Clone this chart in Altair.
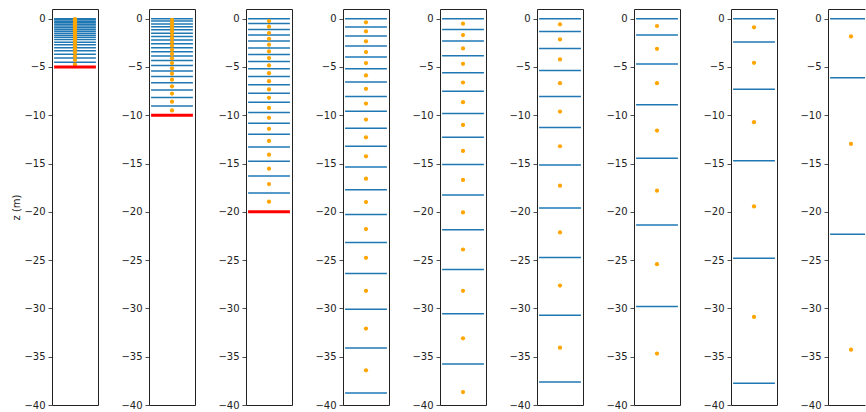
import altair as alt
import pandas as pd

# Layer interface depths (m) for each vertical grid
interfaces_1 = [0, -0.12, -0.28, -0.43, -0.58, -0.76, -0.93, -1.11, -1.3, -1.5,
                -1.71, -1.93, -2.16, -2.43, -2.71, -3.0, -3.32, -3.69, -4.07, -4.51]
interfaces_2 = [0, -0.25, -0.55, -0.85, -1.16, -1.5, -1.85, -2.22, -2.6, -3.0,
                -3.43, -3.86, -4.33, -4.86, -5.42, -6.0, -6.64, -7.38, -8.15, -9.03]
interfaces_3 = [0, -0.49, -1.11, -1.70, -2.32, -3.05, -3.70, -4.43, -5.19, -5.99,
                -6.85, -7.71, -8.65, -9.72, -10.83, -11.97, -13.28, -14.77, -16.29, -18.05]
interfaces_4 = [0, -0.87, -1.80, -2.84, -3.98, -5.19, -6.57, -8.06, -9.58, -11.35,
                -13.21, -15.36, -17.71, -20.27, -23.17, -26.39, -30.09, -34.10, -38.77]
interfaces_5 = [0, -1.11, -2.32, -3.84, -5.60, -7.51, -9.82, -12.28, -15.11, -18.26,
                -21.86, -25.97, -30.54, -35.76]
interfaces_6 = [0, -1.32, -3.08, -5.36, -8.06, -11.27, -15.15, -19.61, -24.73, -30.71, -37.63]
interfaces_7 = [0, -1.70, -4.70, -8.92, -14.46, -21.37, -29.81]
interfaces_8 = [0, -2.42, -7.30, -14.70, -24.80, -37.76]
interfaces_9 = [0, -6.12, -22.31]

# Layer centre depths (m)
centers_1 = [-0.06, -0.2, -0.35, -0.5, -0.67, -0.84, -1.02, -1.2, -1.4, -1.6,
             -1.82, -2.05, -2.3, -2.57, -2.85, -3.16, -3.5, -3.88, -4.29, -4.75]
centers_2 = [-0.12, -0.4, -0.7, -1.0, -1.33, -1.68, -2.04, -2.42, -2.8, -3.22,
             -3.65, -4.1, -4.6, -5.14, -5.7, -6.32, -7.0, -7.76, -8.6, -9.5]
centers_3 = [-0.25, -0.83, -1.49, -2.08, -2.70, -3.39, -4.08, -4.84, -5.64, -6.47,
             -7.33, -8.20, -9.24, -10.27, -11.41, -12.66, -14.08, -15.53, -17.12, -18.95]
centers_4 = [-0.38, -1.32, -2.35, -3.46, -4.60, -5.88, -7.26, -8.79, -10.45, -12.28,
             -14.25, -16.57, -18.99, -21.79, -24.76, -28.18, -32.09, -36.41]
centers_5 = [-0.52, -1.70, -3.08, -4.67, -6.61, -8.65, -11.00, -13.70, -16.70, -20.06,
             -23.90, -28.18, -33.09, -38.66]
centers_6 = [-0.59, -2.15, -4.22, -6.68, -9.62, -13.21, -17.29, -22.13, -27.63, -34.06]
centers_7 = [-0.76, -3.12, -6.68, -11.59, -17.81, -25.42, -34.68]
centers_8 = [-0.90, -4.57, -10.72, -19.44, -30.88]
centers_9 = [-1.84, -12.97, -34.27]

# Domain bottom (m); None where it lies below the plotted range
bottoms = [-5, -10, -20, None, None, None, None, None, None]

interfaces = [interfaces_1, interfaces_2, interfaces_3, interfaces_4, interfaces_5,
              interfaces_6, interfaces_7, interfaces_8, interfaces_9]
centers = [centers_1, centers_2, centers_3, centers_4, centers_5,
           centers_6, centers_7, centers_8, centers_9]

y_ticks = [0, -5, -10, -15, -20, -25, -30, -35, -40]
y_scale = alt.Scale(domain=[-40, 1], nice=False, zero=False)

PANEL_W = 46
PANEL_H = 396
X_LO, X_HI = -0.05, 1.05
# the last panel runs off the right edge of the page: only its left part is shown
LAST_W = 37
LAST_HI = X_LO + (X_HI - X_LO) * LAST_W / PANEL_W

LINE = "#222"
hidden_x = alt.Axis(labels=False, ticks=False, domain=False, grid=False, title=None)


def panel(i):
    last = i == 8
    width = LAST_W if last else PANEL_W
    x_scale = alt.Scale(domain=[X_LO, LAST_HI if last else X_HI], nice=False, zero=False)
    y_title = "z (m)" if i == 0 else None
    y_axis = alt.Axis(values=y_ticks, grid=False, domain=last, domainColor=LINE,
                      domainWidth=1, tickSize=4, labelPadding=3, title=y_title,
                      titlePadding=2.5)
    if last:
        # open-ended frame: left, bottom and top edges only
        x_bottom = alt.Axis(labels=False, ticks=False, grid=False, title=None,
                            domain=True, domainColor=LINE, domainWidth=1, orient="bottom")
        x_top = alt.Axis(labels=False, ticks=False, grid=False, title=None,
                         domain=True, domainColor=LINE, domainWidth=1, orient="top")
    else:
        x_bottom = hidden_x
        x_top = hidden_x

    lines_df = pd.DataFrame({"z": interfaces[i]})
    dots_df = pd.DataFrame({"z": centers[i]})

    lines = alt.Chart(lines_df).mark_rule(color="#1f77b4", strokeWidth=1.5, clip=True).encode(
        x=alt.datum(0, scale=x_scale, axis=x_bottom),
        x2=alt.datum(1),
        y=alt.Y("z:Q", scale=y_scale, axis=y_axis),
    )
    dots = alt.Chart(dots_df).mark_circle(color="orange", size=18, opacity=1, clip=True).encode(
        x=alt.datum(0.5, scale=x_scale, axis=x_top),
        y=alt.Y("z:Q", scale=y_scale, axis=y_axis),
    )
    layers = [lines, dots]
    if bottoms[i] is not None:
        bottom_df = pd.DataFrame({"z": [bottoms[i]]})
        bottom = alt.Chart(bottom_df).mark_rule(color="red", strokeWidth=3).encode(
            x=alt.datum(0, scale=x_scale, axis=x_bottom),
            x2=alt.datum(1),
            y=alt.Y("z:Q", scale=y_scale, axis=y_axis),
        )
        layers.append(bottom)
    view = alt.ViewBackground(stroke="transparent" if last else LINE, strokeWidth=1)
    layered = alt.layer(*layers).properties(width=width, height=PANEL_H, view=view)
    if last:
        layered = layered.resolve_axis(x="independent")
    return layered


chart = alt.hconcat(*[panel(i) for i in range(9)], spacing=21).properties(
    padding={"left": 10, "top": 8, "right": 0, "bottom": 3}
).configure(
    background="white"
).configure_view(
    stroke=LINE, strokeWidth=1
).configure_axis(
    labelFont="DejaVu Sans", labelFontSize=10, labelColor=LINE,
    titleFont="DejaVu Sans", titleFontSize=10, titleFontWeight="normal", titleColor=LINE,
    tickColor=LINE, tickWidth=0.8,
)

chart.save("out.html", embed_options={"renderer": "svg", "actions": False})
